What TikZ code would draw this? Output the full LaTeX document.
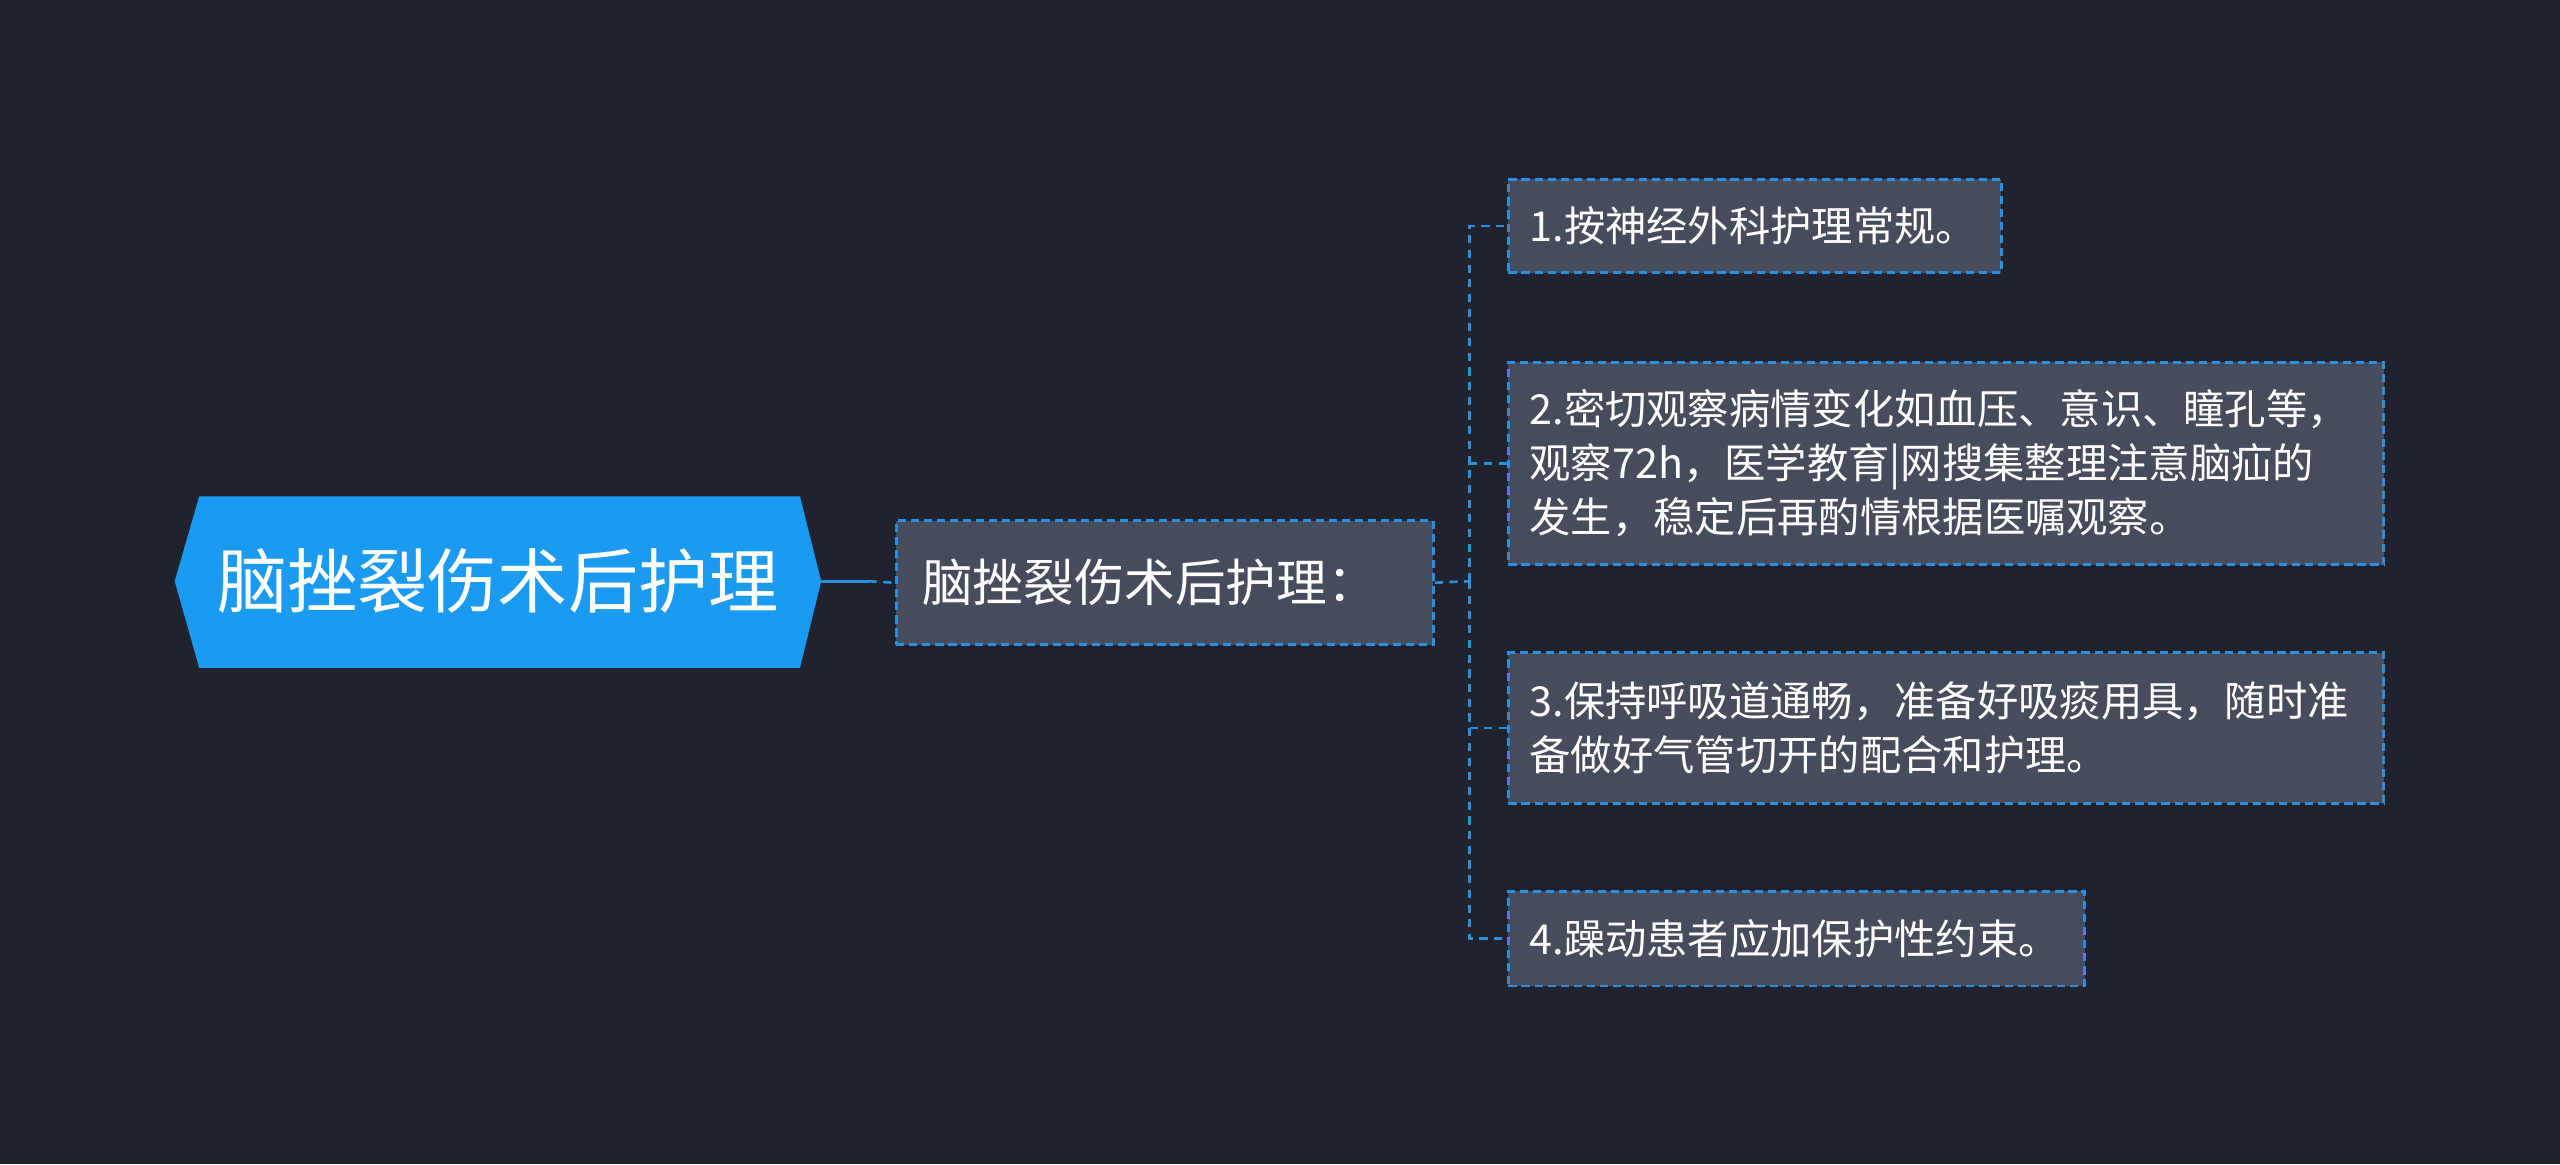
\documentclass[tikz,border=0pt]{standalone}
\usepackage{fontspec}
\setmainfont{Noto Sans CJK SC}
\usetikzlibrary{shapes.geometric}
\definecolor{bg}{HTML}{20232E}
\definecolor{blu}{HTML}{1A9AF0}
\definecolor{lin}{HTML}{2A8FDF}
\definecolor{box}{HTML}{454C5B}
\begin{document}
\begin{tikzpicture}[x=1pt,y=-1pt,
  leaf/.style={draw=lin,dashed,dash pattern=on 5pt off 3pt,line width=1.8pt,fill=box,text=white,inner sep=0pt,anchor=north west,font=\fontsize{25.3}{33}\selectfont,align=left},
  conn/.style={draw=lin,dashed,dash pattern=on 5pt off 4pt,line width=1.6pt}]
\fill[bg] (0,0) rectangle (1568,713);
\useasboundingbox (0,0) rectangle (1568,713);
\fill[blu] (107,356) -- (122,304) -- (490,304) -- (503,356) -- (490,409) -- (122,409) -- cycle;
\node[text=white,font=\fontsize{43}{46}\selectfont] (root) at (305,356) {脑挫裂伤术后护理};
\coordinate (re) at (503,356);
\node[leaf,minimum width=329pt,minimum height=76pt,font=\fontsize{31}{34}\selectfont,text width=329pt] (mid) at (548,318) {\hspace*{16pt}脑挫裂伤术后护理：};
\draw[lin,line width=2pt] (re) -- (532,356);
\draw[conn] (532,356) -- (mid.west);
\node[leaf,minimum width=302pt,minimum height=57pt,text width=302pt] (c1) at (923,109) {\hspace*{13pt}1.按神经外科护理常规。};
\node[leaf,minimum width=536pt,minimum height=124pt,text width=536pt] (c2) at (923,221) {\hspace*{13pt}\parbox{522pt}{2.密切观察病情变化如血压、意识、瞳孔等，\\观察72h，医学教育|网搜集整理注意脑疝的\\发生，稳定后再酌情根据医嘱观察。}};
\node[leaf,minimum width=536pt,minimum height=92pt,text width=536pt] (c3) at (923,399) {\hspace*{13pt}\parbox{522pt}{3.保持呼吸道通畅，准备好吸痰用具，随时准\\备做好气管切开的配合和护理。}};
\node[leaf,minimum width=353pt,minimum height=58pt,text width=353pt] (c4) at (923,545) {\hspace*{13pt}4.躁动患者应加保护性约束。};
\coordinate (j) at (900,356);
\draw[conn] (mid.east) -- (j);
\foreach \c in {c1,c2,c3,c4} \draw[conn] (j) |- (\c.west);
\end{tikzpicture}
\end{document}
